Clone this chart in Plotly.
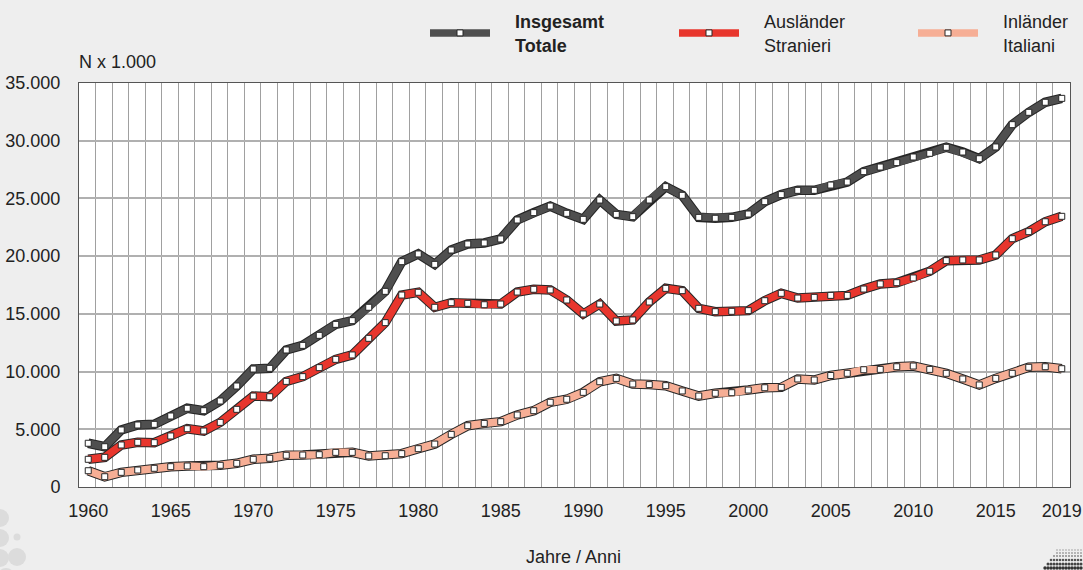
import plotly.graph_objects as go

years = list(range(1960, 2020))

insgesamt = [3790, 3490, 4940, 5370, 5430, 6150, 6820, 6610, 7450, 8750,
             10220, 10280, 11870, 12270, 13140, 14090, 14410, 15570, 16950, 19520,
             20190, 19290, 20530, 21050, 21140, 21490, 23130, 23770, 24340, 23710,
             23190, 24860, 23620, 23420, 24860, 26020, 25270, 23360, 23280, 23360,
             23650, 24720, 25330, 25700, 25700, 26160, 26420, 27320, 27720, 28100,
             28590, 28910, 29430, 29020, 28440, 29460, 31390, 32460, 33330, 33670]

auslaender = [2400, 2570, 3640, 3870, 3840, 4420, 5050, 4850, 5600, 6730,
              7880, 7820, 9150, 9560, 10340, 11060, 11440, 12880, 14240, 16630,
              16870, 15570, 15970, 15910, 15790, 15850, 16890, 17130, 17070, 16200,
              14990, 15850, 14380, 14470, 16030, 17210, 17010, 15480, 15190, 15220,
              15280, 16140, 16780, 16370, 16430, 16600, 16600, 17150, 17590, 17700,
              18110, 18690, 19610, 19670, 19670, 20100, 21510, 22120, 22980, 23450]

inlaender = [1410, 890, 1270, 1470, 1620, 1760, 1820, 1760, 1880, 2050,
             2400, 2490, 2750, 2770, 2800, 3000, 3000, 2690, 2710, 2890,
             3320, 3720, 4560, 5310, 5510, 5660, 6240, 6610, 7340, 7600,
             8200, 9120, 9410, 8920, 8870, 8780, 8320, 7880, 8120, 8170,
             8400, 8600, 8630, 9360, 9270, 9660, 9850, 10160, 10190, 10420,
             10480, 10190, 9850, 9360, 8840, 9410, 9850, 10370, 10420, 10250]

series_names = [("<b>Insgesamt</b>", "<b>Totale</b>"), ("Ausländer", "Stranieri"), ("Inländer", "Italiani")]
series_values = [insgesamt, auslaender, inlaender]
series_colors = ["#4f4f4f", "#e8362d", "#f6ae95"]

x_tick_vals = [1960, 1965, 1970, 1975, 1980, 1985, 1990, 1995, 2000, 2005, 2010, 2015, 2019]
y_tick_vals = [0, 5000, 10000, 15000, 20000, 25000, 30000, 35000]

FONT = "Liberation Sans, Arial, sans-serif"
OUTLINE = "#262626"
PAD = "\u00a0" * 4

# plot area in pixels
L, R, T, B = 79, 1070, 83, 487
W, H = R - L, B - T


def px2paper(px, py):
    return (px - L) / W, (B - py) / H


fig = go.Figure()
legend_ids = ["legend", "legend2", "legend3"]
for (n1, n2), vals, col, lid in zip(series_names, series_values, series_colors, legend_ids):
    fig.add_trace(go.Scatter(
        x=years, y=vals, mode="lines", showlegend=False, hoverinfo="skip",
        line=dict(color=OUTLINE, width=9.5),
    ))
    fig.add_trace(go.Scatter(
        x=years, y=vals, mode="lines+markers", name=PAD + n1 + "<br>" + PAD + n2,
        legend=lid,
        line=dict(color=col, width=7.5),
        marker=dict(symbol="square", size=6, color="white",
                    line=dict(color=OUTLINE, width=1)),
    ))

# decorative grey circles (bottom-left)
shapes = []
for cx, cy, r in [(0, 518, 9), (0, 538, 9), (0, 558, 9), (17, 537, 3.5), (17, 557, 9), (6, 577, 9)]:
    x0, y0 = px2paper(cx - r, cy + r)
    x1, y1 = px2paper(cx + r, cy - r)
    shapes.append(dict(type="circle", xref="paper", yref="paper", x0=x0, y0=y0, x1=x1, y1=y1,
                       fillcolor="#dcdcdc", line=dict(width=0), layer="below"))

# decorative dotted logo (bottom-right)
for cy, xs, col, r in [
    (550, range(1057, 1083, 3), "#9a9a9a", 0.8),
    (553, range(1057, 1083, 3), "#9a9a9a", 0.9),
    (556, range(1054, 1083, 3), "#8a8a8a", 1.0),
    (560, range(1051, 1083, 3), "#555555", 1.3),
    (564, range(1048, 1083, 3), "#444444", 1.5),
    (568, range(1045, 1083, 3), "#333333", 1.7),
]:
    for cx in xs:
        x0, y0 = px2paper(cx - r, cy + r)
        x1, y1 = px2paper(cx + r, cy - r)
        shapes.append(dict(type="circle", xref="paper", yref="paper", x0=x0, y0=y0, x1=x1, y1=y1,
                           fillcolor=col, line=dict(width=0), layer="below"))

legend_common = dict(orientation="h", xanchor="left", yanchor="middle",
                     itemwidth=60, font=dict(size=18, color="#222222"),
                     bgcolor="rgba(0,0,0,0)", itemclick=False, itemdoubleclick=False)
symbol_starts = [430, 679, 918]
ly = px2paper(0, 33)[1]

fig.update_layout(
    width=1083, height=570,
    margin=dict(l=L, r=1083 - R, t=T, b=570 - B, autoexpand=False),
    paper_bgcolor="#eeeeee",
    plot_bgcolor="white",
    separators=",.",
    font=dict(family=FONT, size=18, color="#222222"),
    showlegend=True,
    legend=dict(x=px2paper(symbol_starts[0] - 5, 0)[0], y=ly, **legend_common),
    legend2=dict(x=px2paper(symbol_starts[1] - 5, 0)[0], y=ly, **legend_common),
    legend3=dict(x=px2paper(symbol_starts[2] - 5, 0)[0], y=ly, **legend_common),
    shapes=shapes,
    annotations=[
        dict(text="N x 1.000", xref="paper", yref="paper",
             x=px2paper(77, 0)[0], y=px2paper(0, 62)[1],
             xanchor="left", yanchor="middle", showarrow=False, font=dict(size=18)),
        dict(text="Jahre / Anni", xref="paper", yref="paper",
             x=px2paper(573, 0)[0], y=px2paper(0, 557)[1],
             xanchor="center", yanchor="middle", showarrow=False, font=dict(size=18)),
    ],
)

fig.update_xaxes(
    range=[1959.44, 2019.5],
    tickmode="array", tickvals=x_tick_vals, ticktext=[str(v) for v in x_tick_vals],
    showgrid=False, zeroline=False, automargin=False,
    showline=True, linecolor="#555555", linewidth=1, mirror=True,
    ticks="", ticklabelstandoff=7,
    minor=dict(tickmode="linear", tick0=1959.45, dtick=1, showgrid=True,
               gridcolor="#a0a0a0", gridwidth=1.2, ticks=""),
)
fig.update_yaxes(
    range=[0, 35000],
    tickmode="array", tickvals=y_tick_vals, tickformat=",d",
    showgrid=True, gridcolor="#b0b0b0", gridwidth=1.5, zeroline=False, automargin=False,
    showline=True, linecolor="#555555", linewidth=1, mirror=True,
    ticks="", ticklabelstandoff=14,
)

fig.write_html(
    "out.html",
    config={"displayModeBar": False},
    post_script="document.body.style.margin='0';document.body.style.overflow='hidden';",
)
